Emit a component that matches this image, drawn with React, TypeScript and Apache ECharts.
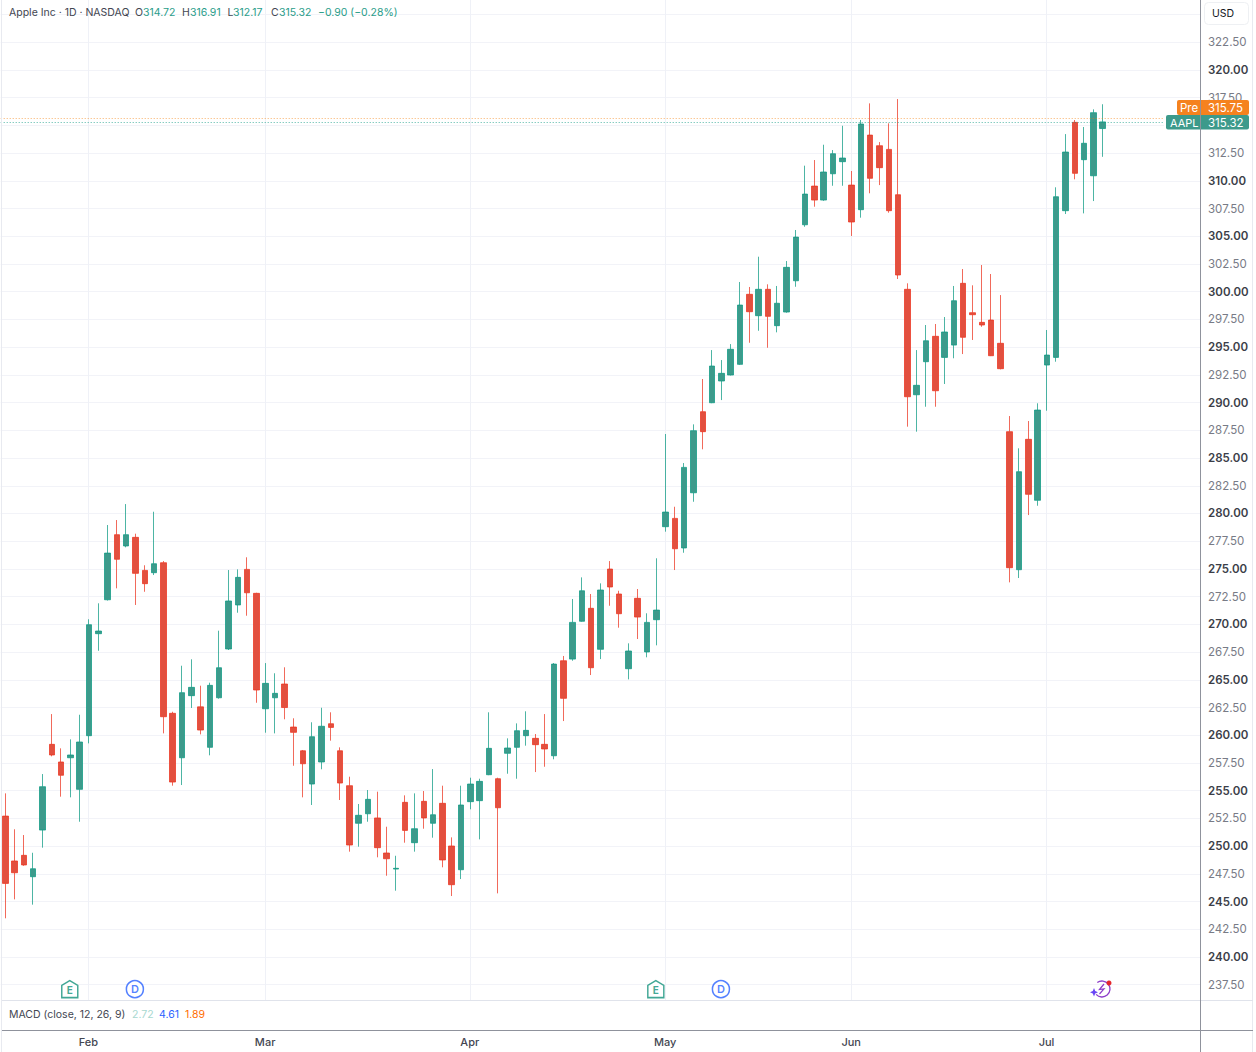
import React, { useEffect, useRef } from "react";
import * as echarts from "echarts";

const opens = [252.71,248.66,249.17,247.24,251.45,259.18,257.59,257.97,255.12,259.96,
269.16,272.22,278.09,277.07,277.85,274.87,274.66,275.56,261.98,257.97,
263.57,262.56,258.91,263.38,267.78,271.75,274.96,272.80,262.39,263.38,
264.62,260.74,258.60,255.60,257.59,261.04,258.60,255.45,252.06,252.92,
252.54,249.38,247.93,253.95,250.31,254.04,252.06,253.86,250.01,247.87,
254.01,254.10,256.44,256.08,258.37,258.91,259.96,259.72,259.18,258.15,
266.72,266.87,270.28,271.45,267.75,274.99,272.74,266.00,272.35,267.51,
270.42,278.81,279.56,276.89,281.87,289.18,289.99,291.95,292.49,293.45,
299.77,297.84,300.22,296.94,298.17,300.99,306.04,309.53,308.27,310.64,
311.73,309.62,307.40,314.13,313.17,312.84,308.75,300.22,290.71,293.69,
295.98,294.08,295.19,300.76,298.11,297.24,297.45,295.35,287.38,274.93,
286.69,281.19,293.39,294.08,307.31,315.28,311.91,310.46,314.72];
const closes = [246.64,247.60,248.30,247.96,255.36,258.22,256.39,258.22,259.39,269.97,
269.40,276.43,275.87,278.09,274.60,273.67,275.47,261.67,255.78,263.84,
264.32,260.47,264.50,266.09,272.11,274.24,272.85,264.08,264.68,263.78,
262.50,260.26,257.43,259.87,260.81,260.71,255.69,250.10,252.78,254.22,
249.86,248.86,248.00,251.42,251.57,252.54,252.83,248.75,246.52,253.71,
255.60,255.84,258.82,253.46,258.85,260.41,260.44,259.15,258.76,266.42,
263.33,270.18,273.03,266.09,273.10,273.37,270.96,267.60,270.66,270.18,
271.29,280.13,276.82,284.16,287.47,287.38,293.30,292.64,294.81,298.80,
298.20,300.22,297.78,298.96,302.20,304.93,308.81,308.27,310.80,312.45,
312.06,306.29,315.13,310.23,311.19,307.31,301.51,290.53,291.56,295.58,
291.07,296.37,299.19,295.89,297.93,297.00,294.23,293.06,275.11,283.77,
281.73,289.33,294.29,308.57,312.60,310.68,313.39,316.15,315.32];
const lows = [243.49,245.20,248.23,244.72,249.86,258.10,254.46,254.40,252.20,259.27,
267.62,272.15,273.25,276.95,271.75,272.94,274.45,260.17,255.45,255.51,
262.46,260.08,258.19,263.30,267.69,271.05,270.78,262.93,260.23,260.17,
261.44,257.25,254.40,253.71,256.93,259.51,254.16,249.50,249.95,252.20,
248.99,247.33,245.98,250.31,249.50,251.57,250.76,248.09,245.50,247.03,
253.32,250.61,256.40,245.74,256.53,256.08,259.06,256.68,257.16,257.83,
261.28,266.72,270.24,265.43,266.87,271.68,269.70,265.04,268.68,267.03,
268.11,278.36,274.90,276.46,281.06,285.79,289.95,290.23,292.45,293.40,
295.40,296.48,294.95,296.34,298.11,300.45,305.86,307.67,308.20,309.56,
309.56,305.03,306.68,308.88,309.62,307.13,301.15,287.83,287.38,289.63,
289.63,291.68,294.00,294.38,295.65,296.84,294.20,293.00,273.79,274.18,
279.86,280.70,289.27,293.69,307.01,310.14,307.07,308.18,312.17];
const highs = [254.76,251.52,251.00,249.40,256.50,261.91,258.82,259.63,261.85,270.46,
271.90,278.96,279.41,280.85,278.18,275.33,280.16,275.71,262.12,266.27,
266.85,264.47,264.74,269.43,274.90,274.96,276.05,272.85,266.51,265.59,
266.13,261.53,258.67,261.17,262.48,262.07,258.91,256.26,253.80,255.06,
254.91,251.75,249.13,254.58,254.76,254.97,256.95,255.45,250.79,255.45,
256.17,256.08,262.07,256.17,259.72,261.07,262.16,260.11,261.91,266.51,
267.15,272.29,274.24,272.74,273.70,275.71,273.03,268.29,273.19,271.00,
275.96,287.17,280.61,284.55,288.04,292.13,294.74,293.84,295.28,300.88,
300.43,303.16,300.67,300.52,302.77,305.57,311.37,311.88,313.26,312.78,
314.97,310.89,315.49,316.99,313.50,315.19,317.38,300.76,294.74,297.00,
297.09,297.72,300.52,302.05,300.58,302.41,301.60,299.70,288.79,285.88,
288.34,289.94,296.55,309.42,314.22,315.49,314.86,316.45,316.91];

const sessionCount = 129;
const monthNames = ["Feb", "Mar", "Apr", "May", "Jun", "Jul"];
const monthIndexes = [9, 28, 50, 71, 91, 112];
const categories = Array.from({ length: sessionCount }, (_, i) => {
  const m = monthIndexes.indexOf(i);
  return m >= 0 ? monthNames[m] : String(i);
});
const earningsIndexes = [7, 70];
const dividendIndexes = [14, 77];
const eventPrice = 237.1;
const prePrice = 315.68;
const lastPrice = 315.32;

const FONT = "Inter, 'Noto Sans', sans-serif";
const GREEN = "#3d9a8b";
const GREEN_EDGE = "rgba(8,153,129,0.72)";
const RED = "#e2503f";
const RED_EDGE = "rgba(236,48,28,0.72)";
const GRID = "#f2f3f8";

function txt(text: string, x: number, y: number, fill: string, size = 10.5, weight = 400, z = 20) {
  return {
    type: "text",
    z,
    style: {
      text,
      x,
      y,
      fill,
      fontFamily: FONT,
      fontSize: size,
      fontWeight: weight,
      align: "left",
      verticalAlign: "middle",
    },
  };
}
function vLine(x: number, y1: number, y2: number, stroke: string, z = 15) {
  return { type: "line", z, shape: { x1: x, y1, x2: x, y2 }, style: { stroke, lineWidth: 1 } };
}
function hLine(y: number, x1: number, x2: number, stroke: string, z = 15) {
  return { type: "line", z, shape: { x1, y1: y, x2, y2: y }, style: { stroke, lineWidth: 1 } };
}

export default function App() {
  const ref = useRef<HTMLDivElement>(null);
  useEffect(() => {
    document.body.style.margin = "0";
    const chart = echarts.init(ref.current!, undefined, { renderer: "svg" });
    const candles = opens.map((o, i) => [o, closes[i], lows[i], highs[i]]);
    chart.setOption({
      animation: false,
      backgroundColor: "#ffffff",
      grid: [
        { left: 0.7, width: 1199.6, top: 14.56, height: 970.16 },
        { left: 0, width: 1200, top: 0, height: 1000 },
      ],
      xAxis: [
        {
          gridIndex: 0,
          type: "category",
          data: categories,
          show: false,
        },
        {
          gridIndex: 1,
          type: "category",
          data: categories,
          axisLine: { show: false },
          axisTick: { show: false },
          splitLine: {
            show: true,
            alignWithLabel: true,
            interval: (i: number) => monthIndexes.includes(i),
            lineStyle: { color: "#eff1f7", width: 1 },
          },
          axisLabel: {
            show: true,
            interval: (i: number) => monthIndexes.includes(i),
            margin: 36,
            color: "#434651",
            fontFamily: FONT,
            fontSize: 11,
            fontWeight: 500,
            verticalAlign: "top",
            lineHeight: 12,
          },
        },
      ],
      yAxis: [
        {
          gridIndex: 0,
          type: "value",
          position: "right",
          min: 237.5,
          max: 325,
          interval: 2.5,
          axisLine: { show: false },
          axisTick: { show: false },
          splitLine: { show: true, lineStyle: { color: GRID, width: 1 } },
          axisLabel: {
            margin: 7.7,
            fontFamily: FONT,
            fontSize: 11.5,
            formatter: (v: number) => {
              if (v === 325 || v === 315) return "";
              return v % 5 === 0 ? `{b|${v.toFixed(2)}}` : `{n|${v.toFixed(2)}}`;
            },
            rich: {
              b: { fontFamily: FONT, fontSize: 11.5, fontWeight: 600, color: "#3b3e48" },
              n: { fontFamily: FONT, fontSize: 11.5, fontWeight: 400, color: "#787b86" },
            },
          },
        },
        {
          gridIndex: 1,
          type: "value",
          show: false,
          min: 236.12,
          max: 326.31,
          splitLine: { show: false },
        },
      ],
      series: [
        {
          type: "candlestick",
          xAxisIndex: 0,
          yAxisIndex: 0,
          data: candles,
          barWidth: 6,
          clip: false,
          itemStyle: {
            color: GREEN,
            color0: RED,
            borderColor: GREEN_EDGE,
            borderColor0: RED_EDGE,
            borderWidth: 1,
          },
          markLine: {
            silent: true,
            symbol: "none",
            label: { show: false },
            animation: false,
            data: [
              { yAxis: prePrice, lineStyle: { color: "rgba(245,124,0,0.6)", type: [1, 2], width: 1 } },
              { yAxis: lastPrice, lineStyle: { color: "rgba(8,153,129,0.7)", type: [1, 2], width: 1 } },
            ],
          },
        },
        {
          type: "scatter",
          xAxisIndex: 1,
          yAxisIndex: 1,
          data: earningsIndexes.map((i) => [i, eventPrice]),
          symbol: "path://M0 5 L8 0 L16 5 L16 18 L0 18 Z",
          symbolSize: [16, 17],
          itemStyle: { color: "#ffffff", borderColor: "#12917a", borderWidth: 1.5 },
          label: {
            show: true,
            position: "inside",
            formatter: "E",
            color: "#12917a",
            fontFamily: FONT,
            fontSize: 10,
            fontWeight: 700,
            offset: [0, 1],
          },
        },
        {
          type: "scatter",
          xAxisIndex: 1,
          yAxisIndex: 1,
          data: dividendIndexes.map((i) => [i, eventPrice]),
          symbol: "circle",
          symbolSize: 17,
          itemStyle: { color: "#ffffff", borderColor: "#2962ff", borderWidth: 1.5 },
          label: {
            show: true,
            position: "inside",
            formatter: "D",
            color: "#2962ff",
            fontFamily: FONT,
            fontSize: 11,
            fontWeight: 600,
          },
        },
      ],
      graphic: [
        { type: "rect", z: 10, shape: { x: 1164, y: 114, width: 36, height: 12 }, style: { fill: "#ffffff" } },
        { type: "rect", z: 11, shape: { x: 1200, y: 100, width: 56, height: 30 }, style: { fill: "#ffffff" } },
        { type: "rect", z: 12, shape: { x: 1177, y: 100, width: 72, height: 15, r: 2 }, style: { fill: "#f5821f" } },
        { type: "rect", z: 12, shape: { x: 1166, y: 115, width: 83, height: 14.5, r: 2 }, style: { fill: "#3d9a8b" } },
        txt("Pre", 1180, 107.5, "#ffffff", 11.5),
        txt("315.75", 1208, 107.5, "#ffffff", 11.5),
        txt("AAPL", 1170, 122.5, "#ffffff", 11),
        txt("315.32", 1208, 122.5, "#ffffff", 11.5),
        {
          type: "rect",
          z: 12,
          shape: { x: 1204.5, y: 2.5, width: 44, height: 22, r: 4 },
          style: { fill: "#ffffff", stroke: "#eef0f3", lineWidth: 1 },
        },
        txt("USD", 1212, 13.5, "#131722"),
        vLine(1.5, 0, 1052, "#e8eaf0"),
        vLine(1252.5, 0, 1052, "#e8eaf0"),
        hLine(1000.5, 2, 1253, "#e0e3eb"),
        hLine(1030.5, 2, 1253, "#8f929c"),
        vLine(1200.5, 0, 1052, "#8f929c", 16),
        txt("Apple Inc · 1D · NASDAQ", 9, 12.5, "#434651"),
        txt("O", 135, 12.5, "#434651"),
        txt("314.72", 143, 12.5, "#2a9d8a"),
        txt("H", 182, 12.5, "#434651"),
        txt("316.91", 190, 12.5, "#2a9d8a"),
        txt("L", 227.5, 12.5, "#434651"),
        txt("312.17", 233, 12.5, "#2a9d8a"),
        txt("C", 271, 12.5, "#434651"),
        txt("315.32", 279, 12.5, "#2a9d8a"),
        txt("−0.90 (−0.28%)", 318, 12.5, "#2a9d8a"),
        txt("MACD (close, 12, 26, 9)", 9, 1014.5, "#434651"),
        txt("2.72", 132, 1014.5, "#a8d8d0"),
        txt("4.61", 159, 1014.5, "#2962ff"),
        txt("1.89", 185, 1014.5, "#ff6d00"),
        {
          type: "arc",
          z: 20,
          shape: { cx: 1102, cy: 989, r: 8, startAngle: -2.2, endAngle: 2.4, clockwise: true },
          style: { stroke: "#8e3fc9", lineWidth: 1.3, fill: "none" },
        },
        {
          type: "polyline",
          z: 20,
          shape: { points: [[1104, 984], [1099.5, 989.5], [1104, 988.8], [1099.5, 994]] },
          style: { stroke: "#8e3fc9", lineWidth: 1.2, fill: "none" },
        },
        {
          type: "polygon",
          z: 21,
          shape: {
            points: [[1094, 988], [1095.2, 991], [1098, 992.2], [1095.2, 993.4], [1094, 996.4], [1092.8, 993.4], [1090, 992.2], [1092.8, 991]],
          },
          style: { fill: "#6a45f5" },
        },
        { type: "circle", z: 21, shape: { cx: 1109, cy: 983, r: 2.5 }, style: { fill: "#e5262c" } },
      ],
    });
    return () => chart.dispose();
  }, []);
  return <div ref={ref} style={{ width: 1256, height: 1052 }} />;
}
